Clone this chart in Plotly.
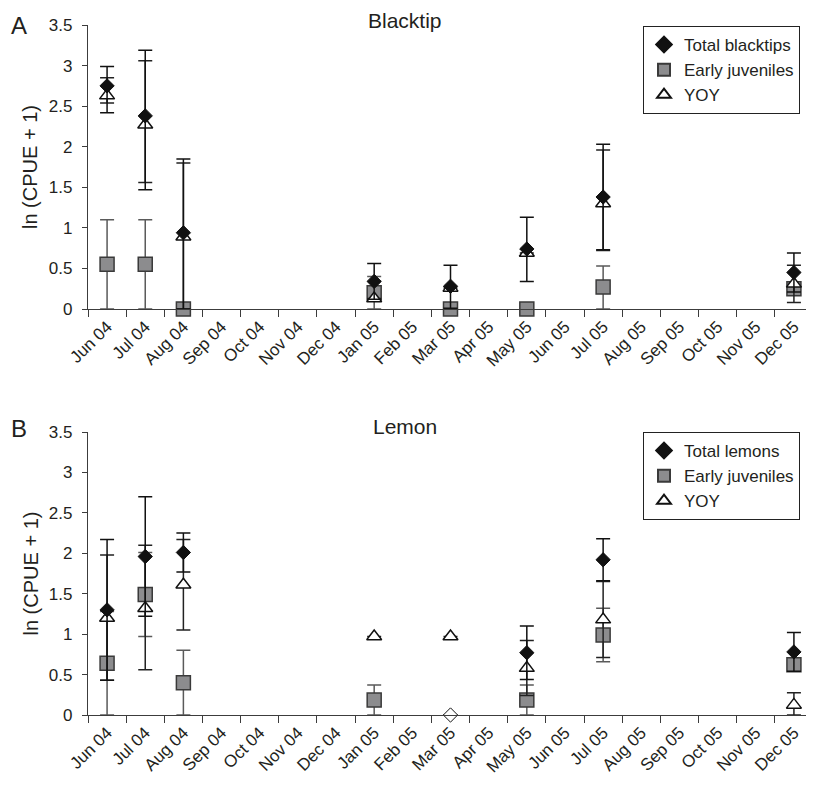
import plotly.graph_objects as go

months = ["Jun 04", "Jul 04", "Aug 04", "Sep 04", "Oct 04", "Nov 04", "Dec 04",
          "Jan 05", "Feb 05", "Mar 05", "Apr 05", "May 05", "Jun 05", "Jul 05",
          "Aug 05", "Sep 05", "Oct 05", "Nov 05", "Dec 05"]
sampled = ["Jun 04", "Jul 04", "Aug 04", "Jan 05", "Mar 05", "May 05", "Jul 05", "Dec 05"]

# Panel A: Blacktip
a_total = [2.75, 2.38, 0.94, 0.34, 0.28, 0.74, 1.38, 0.45]
a_total_up = [0.24, 0.81, 0.91, 0.22, 0.26, 0.39, 0.65, 0.24]
a_total_dn = [0.33, 0.91, 0.94, 0.22, 0.27, 0.40, 0.65, 0.24]
a_ej = [0.55, 0.55, 0.0, 0.20, 0.0, 0.0, 0.27, 0.25]
a_ej_up = [0.55, 0.55, 0.0, 0.20, 0.0, 0.0, 0.26, 0.05]
a_ej_dn = [0.55, 0.55, 0.0, 0.20, 0.0, 0.0, 0.27, 0.05]
a_yoy = [2.63, 2.27, 0.89, 0.13, 0.26, 0.69, 1.30, 0.31]
a_yoy_up = [0.22, 0.79, 0.91, 0.0, 0.0, 0.0, 0.66, 0.23]
a_yoy_dn = [0.09, 0.71, 0.89, 0.0, 0.0, 0.0, 0.58, 0.23]

# Panel B: Lemon
b_total = [1.30, 1.96, 2.01, None, 0.0, 0.77, 1.92, 0.78]
b_total_up = [0.87, 0.74, 0.24, 0.0, 0.0, 0.33, 0.26, 0.24]
b_total_dn = [0.87, 0.74, 0.24, 0.0, 0.0, 0.33, 0.26, 0.24]
b_total_open = [False, False, False, False, True, False, False, False]
b_ej = [0.64, 1.49, 0.40, 0.185, None, 0.185, 0.99, 0.62]
b_ej_up = [0.64, 0.52, 0.40, 0.185, 0.0, 0.185, 0.33, 0.0]
b_ej_dn = [0.64, 0.52, 0.40, 0.185, 0.0, 0.185, 0.33, 0.0]
b_yoy = [1.20, 1.32, 1.61, 0.97, 0.97, 0.58, 1.18, 0.125]
b_yoy_up = [0.78, 0.78, 0.56, 0.0, 0.0, 0.34, 0.47, 0.15]
b_yoy_dn = [0.77, 0.76, 0.56, 0.0, 0.0, 0.34, 0.47, 0.125]

# page body has an 8px margin, so the figure is drawn 8px smaller and offset
OFF = 8
W, H = 814 - OFF, 786 - OFF
ML, MR = 88 - OFF, 1
PW = W - ML - MR
TXT = "#231f20"
AX = "#3c3c3c"
FONT = "Liberation Sans, Arial, sans-serif"


def px_x(px):
    return (px - OFF - ML) / PW


def px_y(py):
    return (H - (py - OFF)) / H


fig = go.Figure()


def add_panel(xa, ya, legend, total, tup, tdn, ej, eup, edn, yoy, yup, ydn, total_name, open_mask=None):
    fig.add_trace(go.Scatter(
        x=sampled, y=ej, mode="markers", name="Early juveniles",
        xaxis=xa, yaxis=ya, legend=legend, legendrank=2, cliponaxis=False,
        marker=dict(symbol="square", size=14, color="#8c8c8e",
                    line=dict(color="#3a3a3a", width=1.5)),
        error_y=dict(type="data", symmetric=False, array=eup, arrayminus=edn,
                     color="#5a5a5a", thickness=1.5, width=7),
    ))
    fig.add_trace(go.Scatter(
        x=sampled, y=yoy, mode="markers", name="YOY",
        xaxis=xa, yaxis=ya, legend=legend, legendrank=3, cliponaxis=False,
        marker=dict(symbol="triangle-up", size=13, color="white",
                    line=dict(color="#111111", width=1.5)),
        error_y=dict(type="data", symmetric=False, array=yup, arrayminus=ydn,
                     color="#222222", thickness=1.5, width=7),
    ))
    if open_mask is None:
        colors = "#111111"
    else:
        colors = ["white" if o else "#111111" for o in open_mask]
    fig.add_trace(go.Scatter(
        x=sampled, y=total, mode="markers", name=total_name,
        xaxis=xa, yaxis=ya, legend=legend, legendrank=1, cliponaxis=False,
        marker=dict(symbol="diamond", size=11, color=colors,
                    line=dict(color="#111111", width=1)),
        error_y=dict(type="data", symmetric=False, array=tup, arrayminus=tdn,
                     color="#111111", thickness=1.5, width=7),
    ))


add_panel("x", "y", "legend", a_total, a_total_up, a_total_dn, a_ej, a_ej_up, a_ej_dn,
          a_yoy, a_yoy_up, a_yoy_dn, "Total blacktips")
add_panel("x2", "y2", "legend2", b_total, b_total_up, b_total_dn, b_ej, b_ej_up, b_ej_dn,
          b_yoy, b_yoy_up, b_yoy_dn, "Total lemons", b_total_open)

xaxis_common = dict(
    type="category", categoryorder="array", categoryarray=months,
    range=[-0.5, 18.5], tickson="boundaries", ticks="outside", ticklen=7,
    tickcolor=AX, tickwidth=1.2, showline=True, linecolor=AX, linewidth=1.2,
    showgrid=False, zeroline=False, tickangle=-45,
    tickfont=dict(family=FONT, size=17, color=TXT), domain=[0, 1],
    automargin=False, fixedrange=True,
)
yaxis_common = dict(
    range=[0, 3.5], dtick=0.5, tick0=0, ticks="outside", ticklen=5,
    tickcolor=AX, tickwidth=1.2, showline=True, linecolor=AX, linewidth=1.2,
    showgrid=False, zeroline=False, ticklabelstandoff=6,
    tickfont=dict(family=FONT, size=17, color=TXT), automargin=False,
)

A_TOP, A_BOT = 25, 309
B_TOP, B_BOT = 432, 715

legend_common = dict(
    bgcolor="white", bordercolor="#222222", borderwidth=1,
    font=dict(family=FONT, size=17, color=TXT),
    xanchor="left", yanchor="top", itemsizing="constant",
    traceorder="normal", tracegroupgap=0,
)

fig.update_layout(
    width=W, height=H, autosize=False,
    margin=dict(l=ML, r=MR, t=0, b=0, pad=0),
    paper_bgcolor="white", plot_bgcolor="white",
    font=dict(family=FONT, color=TXT),
    xaxis=dict(**xaxis_common, anchor="y"),
    yaxis=dict(**yaxis_common, domain=[px_y(A_BOT), px_y(A_TOP)], anchor="x"),
    xaxis2=dict(**xaxis_common, anchor="y2"),
    yaxis2=dict(**yaxis_common, domain=[px_y(B_BOT), px_y(B_TOP)], anchor="x2"),
    legend=dict(**legend_common, x=px_x(643), y=px_y(26)),
    legend2=dict(**legend_common, x=px_x(643), y=px_y(432)),
    showlegend=True,
)

for txt, py in [("A", 25), ("B", 429)]:
    fig.add_annotation(xref="paper", yref="paper", x=px_x(19), y=px_y(py), text=txt,
                       showarrow=False, xanchor="center", yanchor="middle",
                       font=dict(family=FONT, size=24, color=TXT))

for txt, py in [("Blacktip", 21), ("Lemon", 426)]:
    fig.add_annotation(xref="paper", yref="paper", x=px_x(405), y=px_y(py), text=txt,
                       showarrow=False, xanchor="center", yanchor="middle",
                       font=dict(family=FONT, size=21, color=TXT))

for py in [(A_TOP + A_BOT) / 2, (B_TOP + B_BOT) / 2]:
    fig.add_annotation(xref="paper", yref="paper", x=px_x(30), y=px_y(py),
                       text="ln (CPUE + 1)", textangle=-90, showarrow=False,
                       xanchor="center", yanchor="middle",
                       font=dict(family=FONT, size=20, color=TXT))

fig.write_html("out.html")
